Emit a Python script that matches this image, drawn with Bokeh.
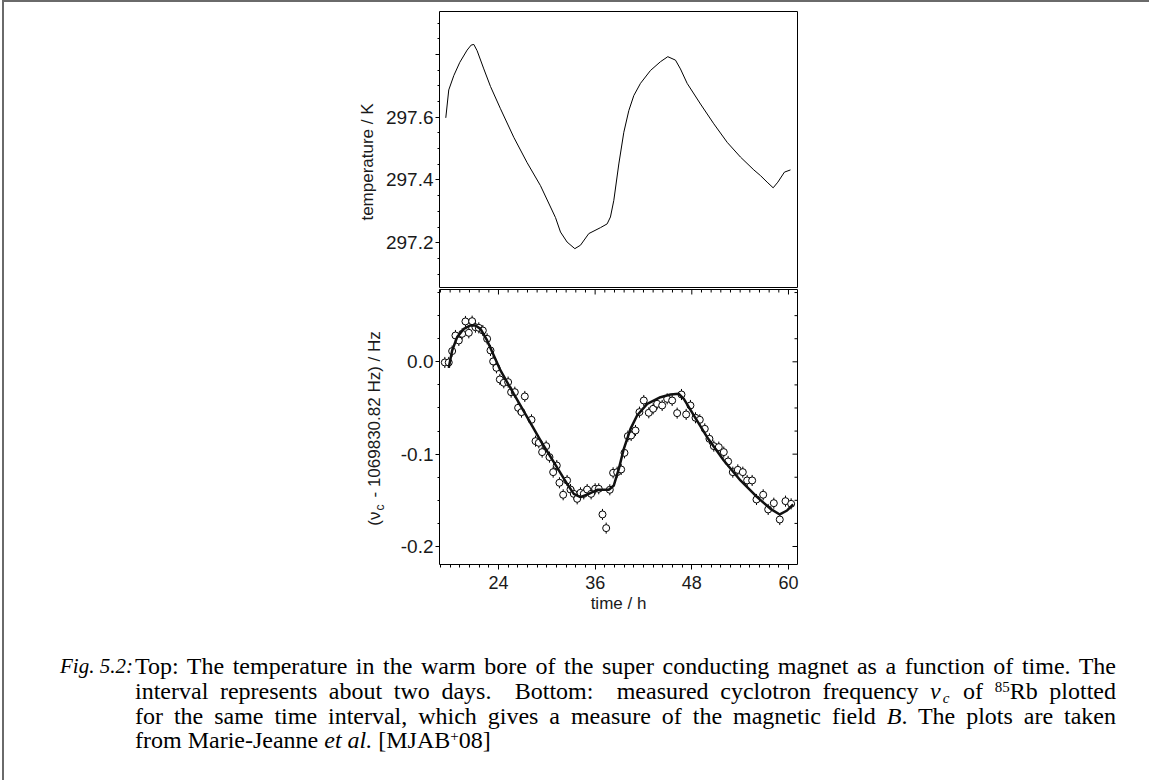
import math
from bokeh.plotting import figure
from bokeh.models import (Range1d, FixedTicker, SingleIntervalTicker,
                          PrintfTickFormatter, ColumnDataSource, Div)
from bokeh.layouts import column, row
from bokeh.embed import file_html
from bokeh.resources import INLINE

# ---------------- data ----------------
temp_time = [17.46, 17.83, 18.46, 19.20, 20.11, 20.61, 20.94, 21.35, 22.18, 23.01,
             24.25, 25.90, 27.56, 29.21, 31.08, 31.70, 32.52, 33.48, 34.18, 35.21,
             36.66, 37.49, 37.90, 38.32, 38.94, 39.56, 40.18, 40.80, 41.63, 42.87,
             44.11, 45.02, 45.97, 46.59, 47.42, 49.08, 50.73, 52.39, 54.04, 55.70,
             56.52, 57.35, 58.10, 58.68, 59.50, 60.25]
temp_K = [297.598, 297.687, 297.733, 297.775, 297.814, 297.830, 297.832, 297.812, 297.754, 297.698,
          297.627, 297.536, 297.455, 297.382, 297.280, 297.234, 297.202, 297.181, 297.192, 297.229,
          297.248, 297.260, 297.282, 297.335, 297.451, 297.552, 297.621, 297.669, 297.708, 297.749,
          297.777, 297.793, 297.782, 297.754, 297.708, 297.642, 297.579, 297.520, 297.473, 297.432,
          297.414, 297.393, 297.375, 297.393, 297.425, 297.432]

meas_time = [17.34, 17.83, 18.25, 18.66, 19.08, 19.49, 19.90, 20.32, 20.73, 21.14,
             21.56, 22.06, 22.59, 23.01, 23.34, 23.75, 24.17, 24.66, 25.20, 25.57,
             26.03, 26.44, 26.86, 27.27, 28.10, 28.60, 29.01, 29.42, 29.92, 30.33,
             30.79, 31.24, 31.57, 32.03, 32.52, 32.94, 33.35, 33.77, 34.18, 34.59,
             35.01, 35.50, 36.00, 36.45, 36.91, 37.37, 37.82, 38.23, 38.73, 39.23,
             39.64, 40.06, 40.47, 41.01, 41.50, 42.04, 42.66, 43.20, 43.70, 44.32,
             44.94, 45.56, 46.18, 46.72, 47.30, 47.83, 48.46, 48.99, 49.61, 50.19,
             50.73, 51.35, 51.97, 52.51, 53.09, 53.71, 54.33, 54.87, 55.49, 56.03,
             56.86, 57.48, 58.18, 58.92, 59.63, 60.33]
meas_dnu = [-0.0007, -0.0007, 0.0116, 0.0285, 0.0231, 0.0303, 0.0437, 0.0314, 0.0440, 0.0375,
            0.0368, 0.0339, 0.0249, 0.0123, 0.0004, -0.0065, -0.0191, -0.0227, -0.0220, -0.0329,
            -0.0329, -0.0498, -0.0545, -0.0375, -0.0628, -0.0859, -0.0877, -0.0978, -0.0913, -0.1032,
            -0.1195, -0.1123, -0.1310, -0.1440, -0.1285, -0.1383, -0.1430, -0.1484, -0.1419, -0.1430,
            -0.1383, -0.1430, -0.1375, -0.1375, -0.1653, -0.1801, -0.1386, -0.1202, -0.1195, -0.1166,
            -0.0986, -0.0805, -0.0798, -0.0744, -0.0545, -0.0419, -0.0552, -0.0509, -0.0455, -0.0473,
            -0.0401, -0.0419, -0.0556, -0.0354, -0.0570, -0.0473, -0.0606, -0.0628, -0.0726, -0.0834,
            -0.0913, -0.0924, -0.0978, -0.1079, -0.1195, -0.1170, -0.1195, -0.1285, -0.1285, -0.1491,
            -0.1440, -0.1599, -0.1531, -0.1708, -0.1509, -0.1538]
meas_err = 0.006  # half-width of each error bar (Hz)

fit_time = [17.83, 18.25, 18.87, 19.70, 20.52, 21.14, 21.77, 22.59, 23.42, 24.25,
            25.90, 27.56, 29.21, 30.87, 32.52, 33.35, 34.18, 35.21, 36.25, 37.70,
            38.32, 38.94, 39.56, 40.39, 41.21, 42.46, 44.11, 45.35, 46.39, 47.01,
            48.25, 49.90, 51.97, 54.04, 56.11, 57.77, 58.92, 59.83, 60.58]
fit_dnu = [-0.0065, 0.0123, 0.0267, 0.0357, 0.0394, 0.0394, 0.0357, 0.0231, 0.0069, -0.0094,
           -0.0347, -0.0599, -0.0852, -0.1087, -0.1321, -0.1430, -0.1466, -0.1430, -0.1386, -0.1386,
           -0.1339, -0.1159, -0.0942, -0.0726, -0.0581, -0.0455, -0.0383, -0.0354, -0.0347, -0.0401,
           -0.0581, -0.0816, -0.1069, -0.1285, -0.1466, -0.1592, -0.1653, -0.1610, -0.1545]

time_range = (16.68, 61.12)
temp_range = (297.054, 297.937)
freq_range = (-0.2195, 0.0783)
time_major = [24, 36, 48, 60]
time_minor_step = 1.2
temp_major = [297.2, 297.4, 297.6, 297.8]
temp_minor = [297.1, 297.15, 297.2, 297.25, 297.3, 297.35, 297.4, 297.45, 297.5, 297.55,
              297.6, 297.65, 297.7, 297.75, 297.8, 297.85, 297.9]
freq_major = [-0.2, -0.1, 0.0]
freq_minor = [-0.2, -0.175, -0.15, -0.125, -0.1, -0.075, -0.05, -0.025, 0.0, 0.025, 0.05, 0.075]

# ---------------- style ----------------
SANS = "Liberation Sans"
YTICK_FS = "19px"
XTICK_FS = "18px"
LAB_FS = "17px"
TXT = "#1a1a1a"
W = 1145
TOP_H, BOT_H = 286, 332
TOP_BT, TOP_BB = 9, 0      # top panel borders (top, bottom)
BOT_BT, BOT_BB = 1, 56     # bottom panel borders (top, bottom)
LAB_W_TOP, LAB_W_BOT = 375, 390


def style_axis(ax, fs):
    ax.axis_line_color = None
    ax.major_tick_line_color = "black"
    ax.minor_tick_line_color = "black"
    ax.major_tick_out, ax.minor_tick_out = 4, 2
    ax.major_tick_in, ax.minor_tick_in = 0, 0
    ax.major_label_text_font = SANS
    ax.major_label_text_color = TXT
    ax.major_label_text_font_size = fs
    ax.major_label_standoff = 2


def label_strip(width, height, bt, bb):
    # pixel-unit strip (y grows downward from the top of the neighbouring frame)
    f = figure(width=width, height=height, x_range=Range1d(0, width),
               y_range=Range1d(height - bt - bb, 0),
               output_backend="svg", toolbar_location=None,
               min_border_left=0, min_border_right=0, min_border_top=bt, min_border_bottom=bb,
               x_axis_location=None, y_axis_location=None)
    f.grid.visible = False
    f.outline_line_color = None
    return f


x_range = Range1d(*time_range)

# ---------------- top panel: temperature ----------------
top = figure(width=W - LAB_W_TOP, height=TOP_H, x_range=x_range, y_range=Range1d(*temp_range),
             output_backend="svg", toolbar_location=None, x_axis_location=None,
             min_border_left=60, min_border_right=352, min_border_top=TOP_BT, min_border_bottom=TOP_BB)
top.grid.visible = False
top.outline_line_color = "black"
top.outline_line_width = 1
top.line(temp_time, temp_K, color="black", line_width=1)
ya = top.yaxis[0]
style_axis(ya, YTICK_FS)
ya.ticker = FixedTicker(ticks=temp_major, minor_ticks=temp_minor)
ya.formatter = PrintfTickFormatter(format="%.1f")
ya.major_label_overrides = {297.8: ""}

lab_top = label_strip(LAB_W_TOP, TOP_H, TOP_BT, TOP_BB)
lab_top.text(x=[362.5], y=[150.5], text=["temperature / K"], angle=math.pi / 2,
             text_align="center", text_baseline="middle", text_font={"value": SANS},
             text_font_size=LAB_FS, text_color=TXT)

# ---------------- bottom panel: cyclotron frequency ----------------
bot = figure(width=W - LAB_W_BOT, height=BOT_H, x_range=x_range, y_range=Range1d(*freq_range),
             output_backend="svg", toolbar_location=None,
             min_border_left=45, min_border_right=352, min_border_top=BOT_BT, min_border_bottom=BOT_BB)
bot.grid.visible = False
bot.outline_line_color = "black"
bot.outline_line_width = 1

src = ColumnDataSource(dict(t=meas_time, v=meas_dnu,
                            lo=[v - meas_err for v in meas_dnu],
                            hi=[v + meas_err for v in meas_dnu]))
bot.segment(x0="t", y0="lo", x1="t", y1="hi", source=src, line_color="black", line_width=1)
bot.scatter(x="t", y="v", source=src, marker="circle", size=7,
            fill_color="white", line_color="black", line_width=1)
bot.line(fit_time, fit_dnu, color="#111111", line_width=2.5)

xa = bot.xaxis[0]
style_axis(xa, XTICK_FS)
xa.major_tick_out, xa.minor_tick_out = 5, 3
xa.ticker = SingleIntervalTicker(interval=12, num_minor_ticks=10)
xa.major_label_standoff = 6
xa.axis_label = "time / h"
xa.axis_label_text_font = SANS
xa.axis_label_text_font_size = LAB_FS
xa.axis_label_text_font_style = "normal"
xa.axis_label_text_color = TXT
xa.axis_label_standoff = 2

yb = bot.yaxis[0]
style_axis(yb, YTICK_FS)
yb.ticker = FixedTicker(ticks=freq_major, minor_ticks=freq_minor)
yb.formatter = PrintfTickFormatter(format="%.1f")

# inward ticks along the top and right edges of the lower panel
x_minor = [time_major[0] + time_minor_step * k for k in range(-7, 32)]
x_minor = [t for t in x_minor if time_range[0] < t < time_range[1] and
           all(abs(t - m) > 1e-6 for m in time_major)]
bot.ray(x=time_major, y=[freq_range[1]] * len(time_major), length=5, length_units="screen",
        angle=-math.pi / 2, line_color="black", line_width=1)
bot.ray(x=x_minor, y=[freq_range[1]] * len(x_minor), length=3, length_units="screen",
        angle=-math.pi / 2, line_color="black", line_width=1)
y_minor_only = [v for v in freq_minor if all(abs(v - m) > 1e-9 for m in freq_major)]
bot.ray(x=[time_range[1]] * len(freq_major), y=freq_major, length=5, length_units="screen",
        angle=math.pi, line_color="black", line_width=1)
bot.ray(x=[time_range[1]] * len(y_minor_only), y=y_minor_only, length=3, length_units="screen",
        angle=math.pi, line_color="black", line_width=1)

lab_bot = label_strip(LAB_W_BOT, BOT_H, BOT_BT, BOT_BB)
lab_kw = dict(angle=math.pi / 2, text_baseline="middle", text_font={"value": SANS}, text_color=TXT)
lab_bot.text(x=[370], y=[222], text=["(\u03bd"], text_align="right", text_font_size=LAB_FS, **lab_kw)
lab_bot.text(x=[375.5], y=[221], text=["c"], text_align="left", text_font_size="12px", **lab_kw)
lab_bot.text(x=[370], y=[208], text=["- 1069830.82 Hz) / Hz"], text_align="left",
             text_font_size=LAB_FS, **lab_kw)

# ---------------- caption ----------------
SUB = "position:relative;top:4px;font-size:15px;line-height:0;margin-left:2px;margin-right:2px;font-style:italic;"
SUP = "position:relative;top:-7px;font-size:15px;line-height:0;"
LINE = "position:absolute;left:126px;width:981px;text-align:justify;text-align-last:justify;white-space:nowrap;"
cap_html = f"""
<div style="position:relative;width:1145px;height:160px;font-family:'Liberation Serif',serif;
            font-size:24px;line-height:25px;color:#000;">
  <div style="position:absolute;left:51px;top:29px;font-size:21px;"><i>Fig. 5.2:</i></div>
  <div style="{LINE}top:29px;">Top: The temperature in the warm bore of the super conducting magnet as a function of time. The</div>
  <div style="{LINE}top:54px;">interval represents about two days.&nbsp; Bottom:&nbsp; measured cyclotron frequency <i>&nu;</i><span style="{SUB}">c</span> of <span style="{SUP}">85</span>Rb plotted</div>
  <div style="{LINE}top:79px;">for the same time interval, which gives a measure of the magnetic field <i>B</i>. The plots are taken</div>
  <div style="position:absolute;left:126px;top:103px;white-space:nowrap;">from Marie-Jeanne <i>et al.</i> [MJAB<span style="{SUP}">+</span>08]</div>
</div>
"""
cap = Div(text=cap_html, width=W, height=160)

page = column(row(lab_top, top), row(lab_bot, bot), cap,
              styles={"border-top": "2px solid #6a6a6a", "border-left": "2px solid #6a6a6a",
                      "margin-left": "2px"})

open("out.html", "w").write(file_html(page, INLINE))
